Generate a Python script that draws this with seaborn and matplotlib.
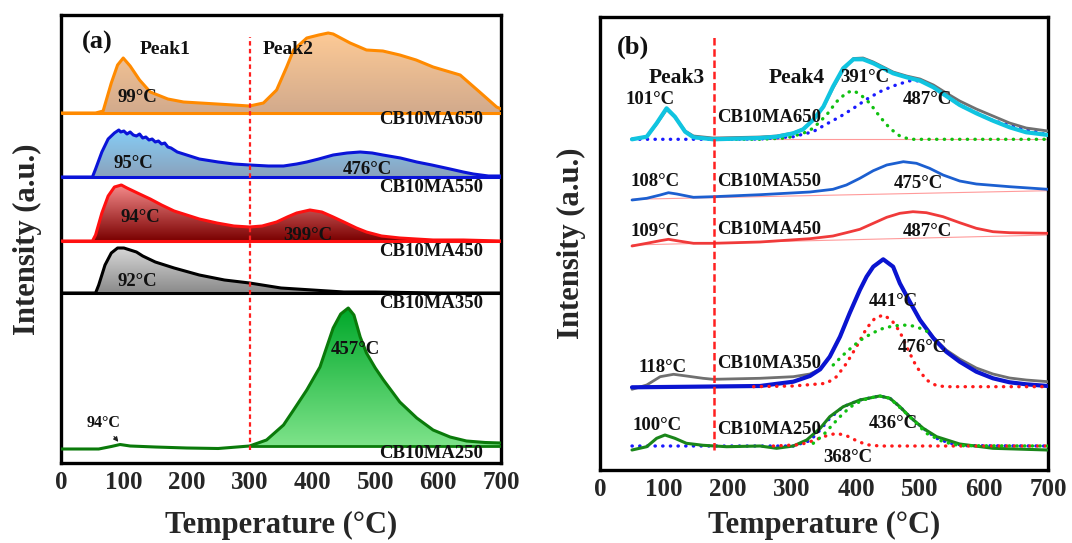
import numpy as np
import pandas as pd
import matplotlib
matplotlib.use("Agg")
import matplotlib.pyplot as plt
import seaborn as sns
from matplotlib.colors import LinearSegmentedColormap

sns.set_style("white")
plt.rcParams['font.family'] = ['Liberation Serif', 'DejaVu Serif']
plt.rcParams['font.weight'] = 'bold'
plt.rcParams['axes.labelweight'] = 'bold'

# ---------------- Panel (a) data (offset units) ----------------
a_T_650 = [0, 55, 67, 80, 90, 99, 110, 125, 142, 170, 195, 248, 300, 322, 343, 359, 370, 391, 410, 425, 433, 460, 486, 512, 539, 565, 592, 635, 666, 693, 700]
a_h_650 = [0, 0, 2, 30, 48, 55, 47, 33, 21, 14, 11, 9, 7, 10, 23, 46, 63, 75, 78, 80, 79, 70, 63, 62, 58, 53, 46, 38, 21, 6, 4]
a_T_550 = [0, 50, 55, 65, 75, 85, 92, 95, 100, 105, 110, 115, 120, 125, 130, 135, 140, 145, 150, 155, 160, 165, 170, 175, 185, 200, 220, 250, 275, 300, 330, 354, 375, 391, 410, 433, 455, 476, 495, 512, 540, 566, 590, 619, 640, 656, 680, 700]
a_h_550 = [0, 0, 8, 25, 38, 44, 47, 45, 46, 43, 45, 42, 41, 43, 39, 40, 37, 38, 35, 36, 33, 34, 30, 29, 25, 22, 18, 15, 13, 12, 11, 11, 13, 15, 18, 22, 24, 25, 24, 22, 19, 15, 12, 8, 5, 3, 1, 1]
a_T_450 = [0, 50, 55, 65, 75, 85, 96, 105, 115, 125, 142, 160, 180, 195, 220, 248, 275, 300, 320, 343, 360, 375, 396, 415, 433, 450, 470, 486, 510, 539, 565, 592, 640, 700]
a_h_450 = [0, 0, 6, 28, 45, 54, 56, 53, 50, 47, 42, 36, 30, 27, 22, 18, 15, 14, 15, 19, 24, 28, 31, 29, 24, 19, 13, 9, 5, 3, 2, 1, 1, 0]
a_T_350 = [0, 55, 60, 70, 80, 90, 100, 110, 120, 130, 150, 180, 220, 260, 300, 350, 400, 450, 500, 600, 700]
a_h_350 = [0, 0, 8, 28, 40, 45, 45, 43, 41, 37, 31, 25, 18, 13, 10, 5, 3, 1, 1, 0, 0]
a_T_250 = [0, 60, 80, 94, 110, 150, 200, 250, 300, 327, 354, 370, 391, 412, 433, 445, 457, 466, 476, 486, 500, 513, 539, 566, 592, 619, 645, 675, 700]
a_y_250 = [14, 14, 16.5, 18.5, 17, 16, 15, 14.5, 17, 23, 38, 53, 73, 96, 135, 149, 155, 148, 126, 110, 95, 83, 61, 45, 33, 26, 22, 20.5, 20]
a_names = ["CB10MA650", "CB10MA550", "CB10MA450", "CB10MA350", "CB10MA250"]

# ---------------- Panel (b) data ----------------
b_T_650 = [50, 73, 88.5, 104, 117, 133, 146, 177, 250, 276, 302, 317.5, 333, 349, 364, 380, 396, 411, 427, 442.5, 458, 479, 500, 521, 541, 562, 588, 614, 640, 666, 700]
b_y_650 = [330.7, 333.3, 346.7, 361.7, 353.3, 338.3, 332.7, 330.7, 332, 333.3, 336.7, 340.7, 350, 363.3, 383.3, 401.7, 410.7, 410.7, 406.7, 401.7, 396.7, 392.7, 389.3, 382.7, 374, 365, 356.7, 349.3, 342.7, 337.7, 335]
b_y_650_raw = [330.7, 333.3, 346, 360.5, 353, 339, 334, 332, 333, 334, 337, 341, 350, 363, 382, 400, 411.5, 412, 408, 403, 398, 394, 391, 385, 377, 369, 361, 354, 347, 342, 339]
b_T_650_f1 = [177, 250, 291.5, 317.5, 333, 354, 369.6, 385.2, 395.6, 406, 421.7, 437.3, 452.9, 468.5, 484.1, 700]
b_y_650_f1 = [330.7, 330.7, 332, 336.7, 341.7, 355, 368.3, 377.3, 379.3, 376, 366.7, 353.3, 341.7, 334, 330.7, 330.7]
b_T_650_f2 = [50, 177, 250, 302, 333, 354, 375, 396, 416.5, 437.3, 458, 479, 489.3, 510, 520.6, 562.2, 614.3, 700]
b_y_650_f2 = [330.7, 330.7, 331, 333.3, 338.3, 346, 353.3, 361.7, 370.7, 378.3, 384, 388.3, 390, 387.3, 382.7, 365, 349.3, 335]

b_T_550 = [50, 73, 94, 107, 120, 146, 177, 250, 328, 364, 385, 406, 427, 448, 474, 494.5, 515, 536, 562, 588, 640, 700]
b_y_550 = [270, 271.7, 275, 277.3, 276, 272.7, 273.3, 275.3, 278, 280.7, 285, 291.7, 299.3, 305, 308.3, 306.7, 301.7, 295, 289, 286, 283.3, 280.7]
b_T_450 = [50, 73, 94, 107, 120, 146, 177, 250, 328, 364, 385, 406, 427, 448, 468.5, 489, 510, 536, 562, 588, 614, 640, 700]
b_y_450 = [224, 226.7, 229.3, 230.7, 229.3, 226.7, 226.7, 228, 231.3, 234, 237.3, 240.7, 246.7, 252.7, 256.7, 258.3, 257.3, 253.3, 247.3, 241.7, 238.3, 237.3, 236.7]

b_T_350 = [50, 146, 250, 302, 328, 344, 359, 375, 390, 406, 416.5, 427, 442.5, 458, 468.5, 484, 500, 521, 541, 562, 588, 614, 640, 666, 700]
b_y_350 = [82.7, 83.3, 84, 88.3, 94, 100.7, 113.3, 133.3, 156.7, 180, 193.3, 203.3, 210.7, 203.3, 186.7, 168.3, 150, 131.7, 118.3, 108.3, 98.3, 91.7, 87.7, 85.7, 84]
b_T_350_raw = [50, 73, 94, 115, 135, 161, 177, 250, 302, 328, 344, 359, 375, 390, 406, 416.5, 427, 442.5, 458, 468.5, 484, 500, 521, 541, 562, 588, 614, 640, 666, 700]
b_y_350_raw = [80.7, 85, 93.3, 95.7, 94, 91.7, 90.7, 91.7, 93.3, 96, 100.7, 113.3, 133.3, 156.7, 180, 193.3, 203.3, 210.7, 203.3, 186.7, 168.3, 150, 132.5, 120, 111, 102, 96, 92, 90, 88.3]
b_T_350_f1 = [240, 302, 354, 369.6, 385.2, 400.8, 416.5, 429.5, 442.5, 455.5, 468.5, 481.5, 494.5, 510.2, 525.8, 541.4, 700]
b_y_350_f1 = [83.3, 84, 86.7, 93.3, 106.7, 123.3, 141.7, 151.7, 155, 150, 138.3, 120, 103.3, 90, 84.3, 83.3, 83.3]
b_T_350_f2 = [364.4, 380, 395.6, 411.2, 426.9, 442.5, 458, 473.7, 489.3, 505, 518]
b_y_350_f2 = [105, 115, 124, 131.7, 137.3, 141.7, 144, 145, 144, 140.7, 136]

b_T_250 = [50, 73, 88.5, 101.5, 117, 135, 161, 198, 250, 276, 302, 323, 344, 359, 380, 406, 437, 453, 468.5, 484, 505, 526, 562, 614, 700]
b_y_250 = [20, 23.3, 31.7, 35, 31.7, 26.7, 24.7, 23.3, 24, 21.7, 24, 30, 41.7, 53.3, 63.3, 70, 74, 71.7, 63.3, 53.3, 41.7, 33.3, 26, 21.7, 20]
b_T_250_fs = [50, 302, 328, 344, 359, 380, 406, 437, 453, 468.5, 484, 505, 526, 547, 573, 700]
b_y_250_fs = [24, 24, 29.3, 40, 51.7, 63.3, 70, 74, 71.7, 63.3, 53.3, 41.7, 31.7, 26.7, 24.3, 24]
b_T_250_f1 = [270.7, 312.3, 333.2, 354, 369.6, 385.2, 400.8, 416.5, 437.3, 700]
b_y_250_f1 = [24, 25.3, 29.3, 34.3, 36.7, 34.3, 29.3, 25.3, 24, 24]
b_T_250_f2 = [333.2, 348.8, 364.4, 380, 395.6, 411.2, 426.9, 437.3, 453, 484, 510, 536, 562, 700]
b_y_250_f2 = [26.7, 35, 46, 56.7, 65, 70, 72.7, 74, 71.7, 53.3, 36.7, 28.3, 24.3, 24]

FS_TICK = 18
FS_LAB = 22
FS_TXT = 13.5
FS_NAME = 13.5


def line(ax, x, y, color, lw, ls='-', z=3):
    df = pd.DataFrame({"T": x, "I": y})
    sns.lineplot(data=df, x="T", y="I", ax=ax, color=color, linewidth=lw,
                 linestyle=ls, sort=False, estimator=None, zorder=z,
                 dash_capstyle='round', solid_capstyle='round')


def grad_fill(ax, x, base, y, c_bot, c_top, where=None):
    x = np.asarray(x, float); y = np.asarray(y, float)
    poly = ax.fill_between(x, base, y, where=where, facecolor='none', edgecolor='none')
    cmap = LinearSegmentedColormap.from_list("g", [c_bot, c_top])
    grad = np.linspace(0, 1, 256).reshape(-1, 1)
    im = ax.imshow(grad, extent=[0, 700, base, y.max()], origin='lower',
                   aspect='auto', cmap=cmap, zorder=1)
    paths = poly.get_paths()
    im.set_clip_path(paths[0], transform=ax.transData)


fig = plt.figure(figsize=(10.72, 5.43), dpi=100)
axA = fig.add_axes([61/1072, 1-463/543, 440/1072, 448/543])
axB = fig.add_axes([600/1072, 1-470/543, 448/1072, 453/543])

# ---------------- Panel (a) ----------------
rows = [
    (a_T_650, a_h_650, 350, '#ff8a00', '#d2aa8c', '#fdca96'),
    (a_T_550, a_h_550, 286, '#0a14d8', '#8aa2bc', '#86cdf6'),
    (a_T_450, a_h_450, 222, '#ff1010', '#7a0000', '#f48a8a'),
    (a_T_350, a_h_350, 170, '#000000', '#8a8a8a', '#d8d8d8'),
]
for T, h, base, lc, cb, ct in rows:
    y = base + np.asarray(h, float)
    grad_fill(axA, T, base, y, cb, ct)
    axA.hlines(base, 0, 700, color=lc, linewidth=2.2, zorder=3)
    line(axA, T, y, lc, 2.2)

gw = [t >= 300 for t in a_T_250]
grad_fill(axA, a_T_250, 17, a_y_250, '#7ee38a', '#00a82a', where=gw)
axA.hlines(17, 300, 700, color='#0a7a0a', linewidth=2.0, zorder=3)
line(axA, a_T_250, a_y_250, '#0a7a0a', 2.2)

axA.vlines(300, 13, 426, color='#ff2020', linestyle=(0, (2, 1.5)), linewidth=1.6, zorder=4)

bold = dict(fontweight='bold', color='#111111')
axA.text(57, 421, "(a)", fontsize=19, ha='center', va='center', **bold)
axA.text(165, 413, "Peak1", fontsize=14, ha='center', va='center', **bold)
axA.text(361, 413, "Peak2", fontsize=14, ha='center', va='center', **bold)
a_lab_T = [121, 115, 488, 126, 393, 122, 468]
a_lab_y = [366, 300, 293, 246, 228, 181, 113]
a_lab = ["99°C", "95°C", "476°C", "94°C", "399°C", "92°C", "457°C"]
for t, yy, s in zip(a_lab_T, a_lab_y, a_lab):
    axA.text(t, yy, s, fontsize=FS_TXT, ha='center', va='center', zorder=6, **bold)
axA.annotate("94°C", xy=(94, 19), xytext=(67, 40), fontsize=11.5, ha='center', va='center',
             arrowprops=dict(arrowstyle='-|>', color='#222222', lw=0.8, mutation_scale=7), **bold)
a_name_y = [344, 276, 211, 160, 10]
for yy, s in zip(a_name_y, a_names):
    axA.text(672, yy, s, fontsize=FS_NAME, ha='right', va='center', zorder=6, **bold)

# ---------------- Panel (b) ----------------
dot = (0, (0.1, 2.2))
line(axB, [177, 700], [330.7, 330.7], '#ff9a9a', 0.8, z=2)
line(axB, [50, 700], [270.7, 279.3], '#ff9a9a', 0.8, z=2)
line(axB, [50, 700], [225, 235], '#ff9a9a', 0.8, z=2)

line(axB, b_T_650_f2, b_y_650_f2, '#1a1aff', 2.4, ls=dot, z=3)
line(axB, b_T_650_f1, b_y_650_f1, '#10c010', 2.4, ls=dot, z=3)
line(axB, b_T_650, b_y_650_raw, '#707070', 2.0, z=4)
line(axB, b_T_650, b_y_650, '#10c4e0', 3.0, z=5)

line(axB, b_T_550, b_y_550, '#1c5fd0', 2.0, z=4)
line(axB, b_T_450, b_y_450, '#f03a3a', 2.0, z=4)

line(axB, b_T_350_raw, b_y_350_raw, '#707070', 2.0, z=4)
line(axB, b_T_350, b_y_350, '#0a14d0', 3.0, z=5)
line(axB, b_T_350_f1, b_y_350_f1, '#ff1a1a', 2.4, ls=dot, z=6)
line(axB, b_T_350_f2, b_y_350_f2, '#10c010', 2.4, ls=dot, z=6)

line(axB, b_T_250_fs, b_y_250_fs, '#1a1aff', 2.4, ls=dot, z=3)
line(axB, b_T_250, b_y_250, '#1a861a', 2.2, z=4)
line(axB, b_T_250_f1, b_y_250_f1, '#ff1a1a', 2.4, ls=dot, z=6)
line(axB, b_T_250_f2, b_y_250_f2, '#10c010', 2.4, ls=dot, z=6)

axB.vlines(178, 20, 433, color='#ff2020', linestyle=(0, (3, 1.5)), linewidth=1.8, zorder=7)

axB.text(52, 423, "(b)", fontsize=19, ha='center', va='center', **bold)
axB.text(120, 392, "Peak3", fontsize=15.5, ha='center', va='center', **bold)
axB.text(308, 392, "Peak4", fontsize=15.5, ha='center', va='center', **bold)
b_lab_T = [414, 511, 78, 86, 497, 86, 512, 458, 503, 97, 89, 458, 387]
b_lab_y = [392, 370, 371, 288, 286, 239, 238, 168, 122, 103, 45, 47, 12]
b_lab = ["391°C", "487°C", "101°C", "108°C", "475°C", "109°C", "487°C",
         "441°C", "476°C", "118°C", "100°C", "436°C", "368°C"]
for t, yy, s in zip(b_lab_T, b_lab_y, b_lab):
    axB.text(t, yy, s, fontsize=FS_TXT, ha='center', va='center', zorder=8, **bold)
b_name_y = [353, 289, 240, 106, 40]
for yy, s in zip(b_name_y, a_names):
    axB.text(183, yy, s, fontsize=FS_NAME, ha='left', va='center', zorder=8, **bold)

# ---------------- axes styling ----------------
for ax, ylim, lp_x, lp_y in [(axA, (0, 448), 12, 14), (axB, (0, 453), 7, 10)]:
    ax.set_xlim(0, 700)
    ax.set_ylim(*ylim)
    ax.set_xticks(range(0, 701, 100))
    ax.set_xticks(range(50, 701, 100), minor=True)
    ax.set_yticks([])
    ax.tick_params(axis='x', which='major', direction='in', length=5, width=1.5,
                   labelsize=FS_TICK, pad=6)
    ax.tick_params(axis='x', which='minor', direction='in', length=3, width=1.2)
    for lab in ax.get_xticklabels():
        lab.set_fontweight('bold')
    for sp in ax.spines.values():
        sp.set_visible(True)
        sp.set_linewidth(2.4)
        sp.set_color('black')
    ax.set_xlabel("Temperature (°C)", fontsize=FS_LAB, fontweight='bold', labelpad=lp_x)
    ax.set_ylabel("Intensity (a.u.)", fontsize=FS_LAB, fontweight='bold', labelpad=lp_y)
    ax.set_facecolor('white')

fig.savefig("out.png", dpi=100, facecolor='white')
